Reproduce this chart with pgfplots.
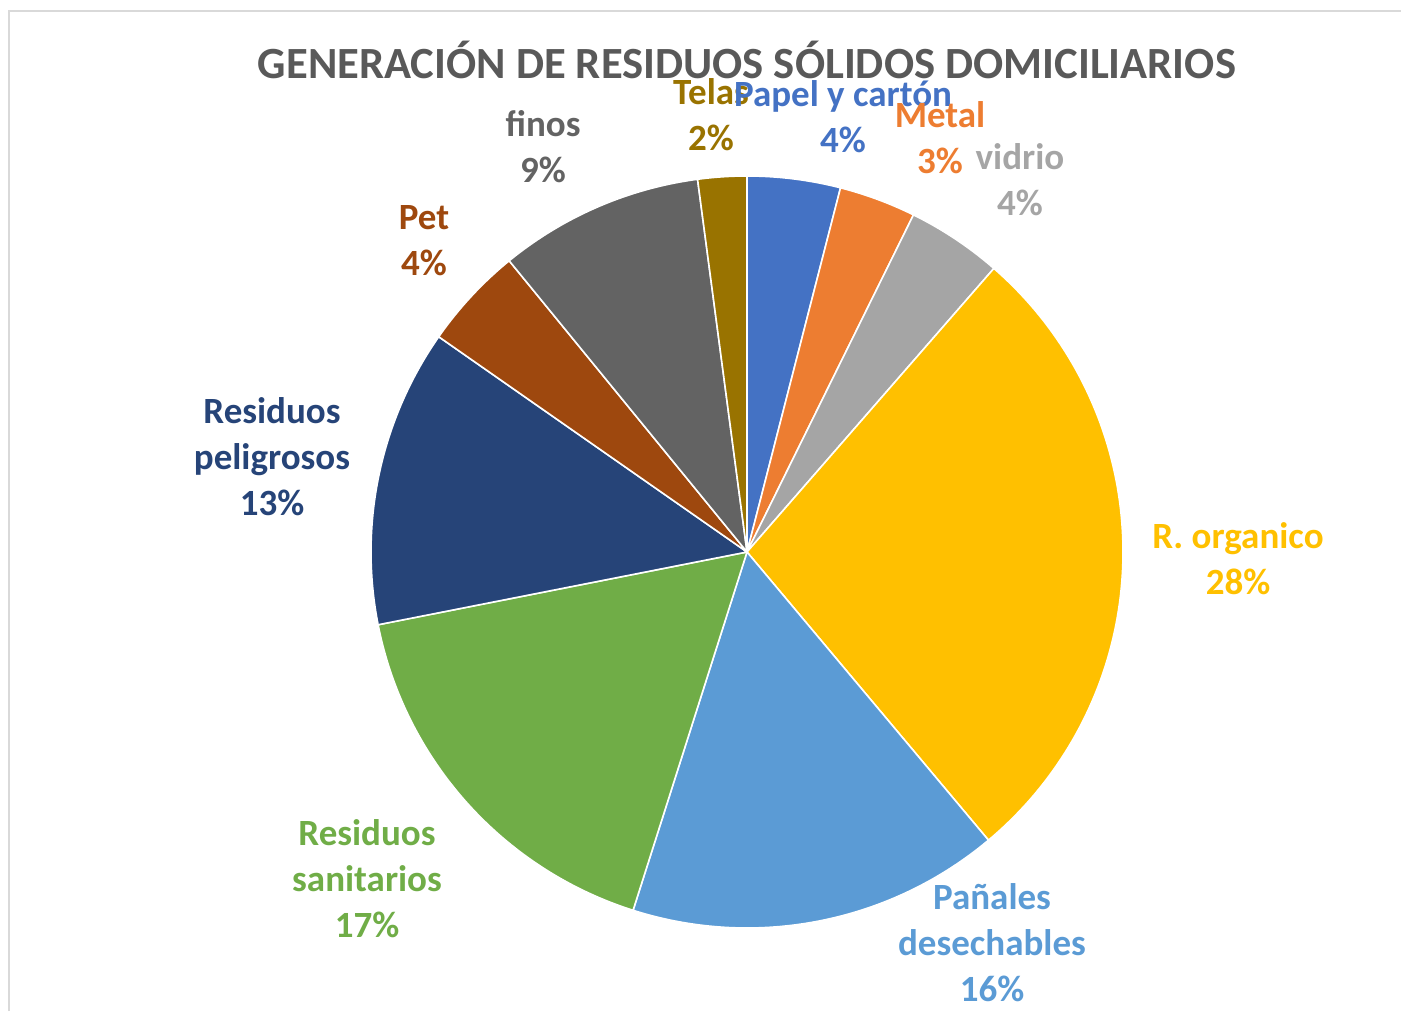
\documentclass[border=0pt]{standalone}
\usepackage{pgfplots}
\pgfplotsset{compat=1.18}
\usepackage{pgfplotstable}
\usepackage{fontspec}
\setmainfont{Carlito}

\definecolor{sc0}{HTML}{4472C4}
\definecolor{sc1}{HTML}{ED7D31}
\definecolor{sc2}{HTML}{A5A5A5}
\definecolor{sc3}{HTML}{FFC000}
\definecolor{sc4}{HTML}{5B9BD5}
\definecolor{sc5}{HTML}{70AD47}
\definecolor{sc6}{HTML}{264478}
\definecolor{sc7}{HTML}{9E480E}
\definecolor{sc8}{HTML}{636363}
\definecolor{sc9}{HTML}{997300}
\definecolor{titlegray}{HTML}{595959}
\definecolor{framegray}{HTML}{D9D9D9}

\pgfplotstableread{
label value
Papel 4.0
Metal 3.3
vidrio 4.1
organico 27.5
panales 16.0
sanitarios 17.0
peligrosos 12.8
pet 4.4
finos 8.8
telas 2.1
}\piedata

\def\cum{0}
\pgfplotstableforeachcolumnelement{value}\of\piedata\as\v{%
  \pgfmathsetmacro\angA{90-3.6*\cum}%
  \pgfmathsetmacro\newcum{\cum+\v}%
  \pgfmathsetmacro\angB{90-3.6*\newcum}%
  \expandafter\xdef\csname angS\pgfplotstablerow\endcsname{\angA}%
  \expandafter\xdef\csname angE\pgfplotstablerow\endcsname{\angB}%
  \xdef\cum{\newcum}%
}

\begin{document}
\begin{tikzpicture}
\begin{axis}[
  scale only axis,
  width=700.5pt, height=505.5pt,
  xmin=0, xmax=1401, ymin=0, ymax=1011,
  hide axis,
  clip=false,
]
\coordinate (BL) at (rel axis cs:0,0);
\coordinate (TR) at (rel axis cs:1,1);
\draw[framegray, line width=1pt] (9,0) -- (9,1000) -- (1401,1000);

\pgfplotsinvokeforeach{0,...,9}{%
  \addplot[fill=sc#1, draw=white, line width=0.8pt, line join=round,
    domain=\csname angE#1\endcsname:\csname angS#1\endcsname,
    samples=90, variable=\t]
    ({747+376*cos(\t)},{459+376*sin(\t)}) -- (747,459) -- cycle;
}

\node[font=\fontsize{22.3}{27}\selectfont\bfseries, text=titlegray] at (747,951)
  {GENERACIÓN DE RESIDUOS SÓLIDOS DOMICILIARIOS};

\tikzset{lbl/.style={font=\fontsize{18.5}{23}\selectfont\bfseries, align=center, inner sep=0pt}}
\node[lbl, text=sc9] at (711,896.5) {Telas\\2\%};
\node[lbl, text=sc0] at (843,894.5) {Papel y cartón\\4\%};
\node[lbl, text=sc1] at (940,873.5) {Metal\\3\%};
\node[lbl, text=sc2] at (1020,831.5) {vidrio\\4\%};
\node[lbl, text=sc3] at (1238,452) {R. organico\\28\%};
\node[lbl, text=sc4] at (992,68) {Pañales\\desechables\\16\%};
\node[lbl, text=sc5] at (367,132) {Residuos\\sanitarios\\17\%};
\node[lbl, text=sc6] at (272,554) {Residuos\\peligrosos\\13\%};
\node[lbl, text=sc7] at (424,770) {Pet\\4\%};
\node[lbl, text=sc8] at (543,864) {finos\\9\%};
\end{axis}
\pgfresetboundingbox
\path[use as bounding box] (BL) rectangle (TR);
\end{tikzpicture}
\end{document}
